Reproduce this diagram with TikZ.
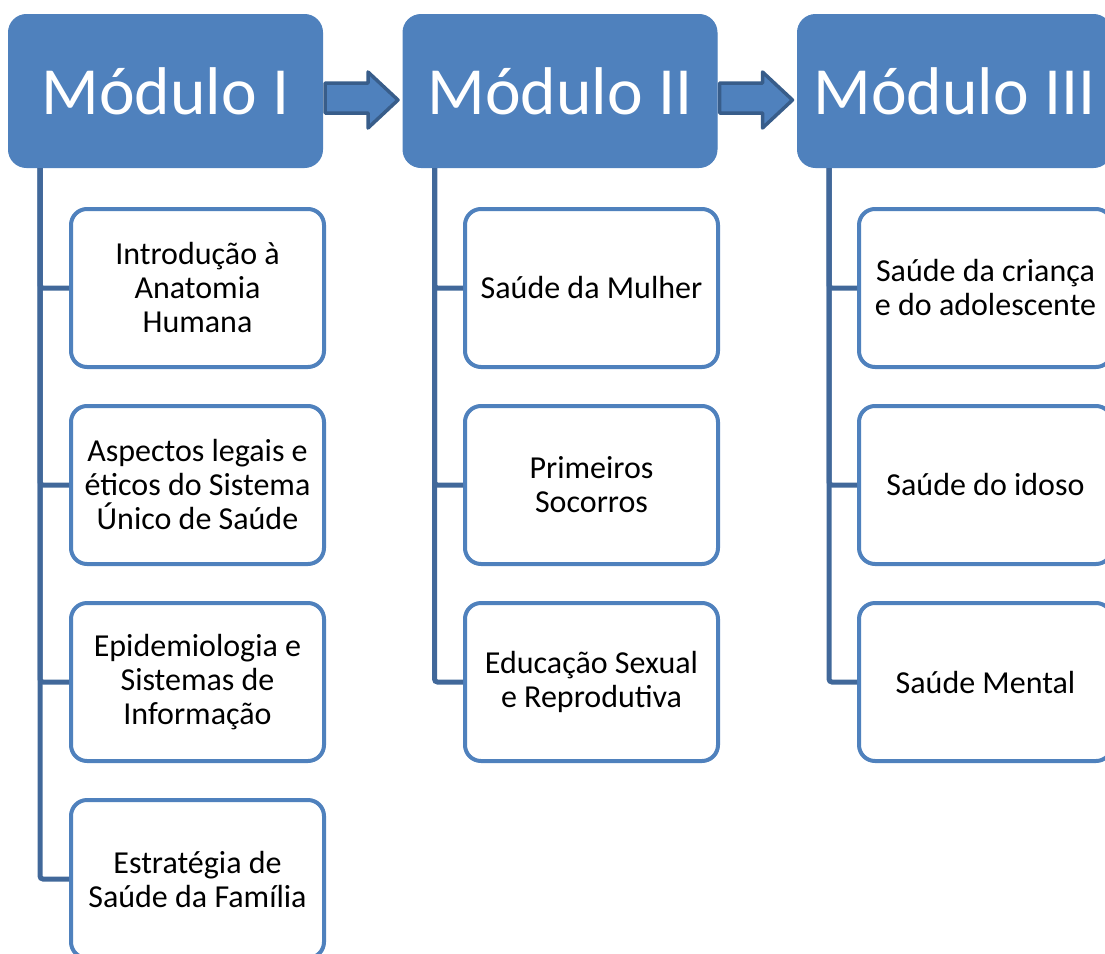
\documentclass[tikz,border=0pt]{standalone}
\usepackage{fontspec}
\setmainfont{Carlito}
\usetikzlibrary{calc}
\definecolor{hdr}{HTML}{4F81BD}
\definecolor{conncol}{HTML}{41689A}
\definecolor{arrline}{HTML}{385D8A}
\tikzset{
  header/.style={fill=hdr, draw=hdr, line width=1pt, rounded corners=18pt, minimum width=314pt, minimum height=153pt, inner sep=0pt, text=white, font=\fontsize{67.5}{72}\selectfont},
  child/.style={fill=white, draw=hdr, line width=4pt, rounded corners=16pt, minimum width=253pt, minimum height=158pt, inner sep=0pt, align=center, font=\fontsize{32}{34}\selectfont},
  conn/.style={draw=conncol, line width=5pt, rounded corners=3pt},
  blockarrow/.style={fill=hdr, draw=arrline, line width=3.5pt, line join=round}
}
\begin{document}
\begin{tikzpicture}[x=1pt,y=-1pt]
\useasboundingbox (0,0) rectangle (1105,953);
% headers
\node[header] (h1) at (165.5,91) {Módulo I};
\node[header] (h2) at (560,91) {Módulo II};
\node[header] (h3) at (954.5,91) {Módulo III};
% children module I
\node[child] (a1) at (197.5,288) {Introdução à\\Anatomia\\Humana};
\node[child] (a2) at (197.5,485) {Aspectos legais e\\éticos do Sistema\\Único de Saúde};
\node[child] (a3) at (197.5,682) {Epidemiologia e\\Sistemas de\\Informação};
\node[child] (a4) at (197.5,879) {Estratégia de\\Saúde da Família};
% children module II
\node[child] (b1) at (591.5,288) {Saúde da Mulher};
\node[child] (b2) at (591.5,485) {Primeiros\\Socorros};
\node[child] (b3) at (591.5,682) {Educação Sexual\\e Reprodutiva};
% children module III
\node[child] (c1) at (985.5,288) {Saúde da criança\\e do adolescente};
\node[child] (c2) at (985.5,485) {Saúde do idoso};
\node[child] (c3) at (985.5,682) {Saúde Mental};
% connectors
\foreach \n in {a1,a2,a3,a4} \draw[conn] ([xshift=32pt]h1.south west) |- (\n.west);
\foreach \n in {b1,b2,b3} \draw[conn] ([xshift=32pt]h2.south west) |- (\n.west);
\foreach \n in {c1,c2,c3} \draw[conn] ([xshift=32pt]h3.south west) |- (\n.west);
% block arrows
\foreach \h in {h1,h2}
  \draw[blockarrow] ($(\h.east)+(2,-8)$) -- ($(\h.east)+(45,-8)$) -- ($(\h.east)+(45,-19)$) -- ($(\h.east)+(75,9)$) -- ($(\h.east)+(45,37)$) -- ($(\h.east)+(45,22)$) -- ($(\h.east)+(2,22)$) -- cycle;
\end{tikzpicture}
\end{document}
